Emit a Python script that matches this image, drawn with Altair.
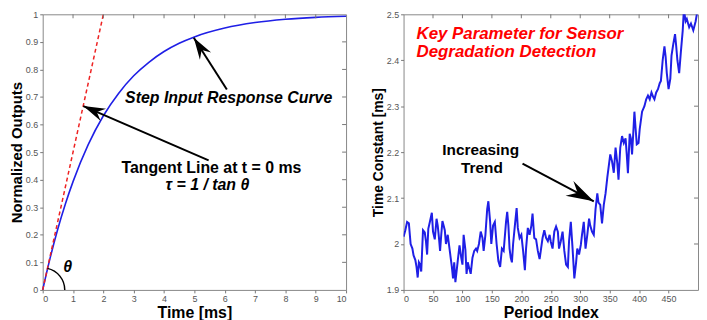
import math
import altair as alt
import pandas as pd

FONT = "Liberation Sans"

# ---------------- left panel data ----------------
time_ms = [0, 0.25, 0.5, 0.75, 1, 1.5, 2, 2.5, 3, 3.5, 4, 4.5, 5, 6, 7, 8, 9, 10]
norm_out = [0, 0.118, 0.222, 0.313, 0.393, 0.527, 0.632, 0.713, 0.777, 0.826,
            0.865, 0.895, 0.918, 0.950, 0.970, 0.982, 0.989, 0.993]
tangent_t = [0, 2]
tangent_y = [0, 1]
left_x_ticks = [0, 1, 2, 3, 4, 5, 6, 7, 8, 9, 10]
left_y_ticks = [0, 0.1, 0.2, 0.3, 0.4, 0.5, 0.6, 0.7, 0.8, 0.9, 1]

# ---------------- right panel data ----------------
period_idx = [0, 3, 6, 9, 12, 15, 17, 20, 22, 24, 26, 28, 30, 33, 36, 38, 40, 42, 45, 48,
              50, 53, 56, 58, 60, 62, 64, 66, 68, 70, 72, 75, 78, 80, 82, 84, 86, 88, 90, 92,
              95, 98, 100, 102, 105, 107, 109, 111, 114, 117, 120, 123, 125, 128, 131, 134, 136, 139, 142, 144,
              147, 149, 152, 155, 158, 161, 164, 167, 170, 174, 176, 178, 180, 182, 184, 186, 189, 192, 194, 197,
              200, 203, 206, 208, 211, 214, 217, 219, 222, 225, 228, 231, 233, 236, 239, 242, 245, 248, 250, 253,
              256, 259, 262, 264, 267, 270, 273, 276, 279, 281, 284, 287, 290, 293, 295, 298, 301, 303, 306, 309,
              312, 315, 317, 320, 323, 326, 329, 331, 334, 337, 340, 343, 346, 348, 351, 354, 357, 360, 363, 365,
              368, 371, 374, 377, 379, 381, 384, 386, 388, 390, 392, 394, 396, 399, 401, 405, 409, 412, 415, 418,
              421, 424, 426, 429, 432, 435, 437, 440, 443, 445, 447, 450, 453, 455, 458, 461, 463, 465, 468, 471,
              474, 476, 479, 481, 485, 488, 492, 496, 498]
time_const = [2.016, 2.03, 2.048, 2.045, 2.0, 1.99, 1.975, 1.965, 1.95, 1.927, 1.96, 1.955, 1.94, 2.03, 2.025, 2.006, 1.977, 2.033, 2.05, 2.068,
              2.027, 2.01, 2.055, 2.04, 2.015, 1.985, 2.02, 2.05, 2.04, 2.03, 2.0, 2.02, 1.99, 1.97, 1.95, 1.925, 1.96, 1.917, 1.94, 1.963,
              1.997, 1.97, 1.955, 2.02, 1.987, 1.935, 1.96, 1.95, 1.935, 1.97, 1.985, 1.99, 1.985, 2.0, 2.027, 2.013, 1.985, 2.02, 2.076, 2.093,
              2.048, 2.0, 2.04, 2.048, 2.0, 1.963, 1.95, 1.99, 1.985, 2.048, 2.07, 2.04, 1.99, 1.97, 1.96, 2.0, 2.04, 2.078, 2.035, 2.013,
              2.02, 1.985, 1.943, 1.99, 2.035, 2.02, 2.04, 2.066, 2.013, 2.01, 1.985, 1.967, 1.985, 2.013, 2.03, 2.013, 2.006, 2.02, 2.005, 1.99,
              2.027, 2.038, 2.027, 1.99, 2.006, 2.027, 1.985, 1.955, 1.95, 2.006, 2.048, 1.99, 1.925, 1.96, 1.99, 1.977, 1.998, 2.02, 2.048, 1.99,
              2.02, 2.055, 2.04, 2.027, 2.02, 2.076, 2.11, 2.09, 2.085, 2.045, 2.085, 2.11, 2.145, 2.165, 2.195, 2.18, 2.155, 2.21, 2.175, 2.14,
              2.21, 2.235, 2.22, 2.23, 2.195, 2.154, 2.24, 2.23, 2.195, 2.24, 2.288, 2.252, 2.217, 2.22, 2.25, 2.288, 2.3, 2.315, 2.323, 2.315,
              2.33, 2.32, 2.315, 2.33, 2.337, 2.35, 2.355, 2.40, 2.43, 2.408, 2.372, 2.337, 2.36, 2.41, 2.435, 2.457, 2.43, 2.40, 2.372, 2.42,
              2.464, 2.51, 2.485, 2.49, 2.472, 2.48, 2.465, 2.485, 2.5]
right_x_ticks = [0, 50, 100, 150, 200, 250, 300, 350, 400, 450]
right_y_ticks = [1.9, 2.0, 2.1, 2.2, 2.3, 2.4, 2.5]

WL, WR, H = 306, 297, 278
LX, LY = [0, 10], [0, 1]
RX, RY = [0, 500], [1.9, 2.5]

ARROW = "M0,0L0.55,1.8L0,1.2L-0.55,1.8Z"


def axis(title, values, fmt, tsize):
    return alt.Axis(title=title, values=values, format=fmt, grid=False, domain=False,
                    labelOverlap=False, labelFont=FONT, labelFontSize=9, labelColor="#555555",
                    tickColor="#777777", tickSize=3, labelPadding=2,
                    titleFont=FONT, titleFontSize=tsize, titleFontWeight="bold",
                    titleColor="black", titlePadding=1)


class Panel:
    def __init__(self, xdom, ydom, xaxis, yaxis, w):
        self.xs = alt.Scale(domain=xdom, nice=False, zero=False)
        self.ys = alt.Scale(domain=ydom, nice=False, zero=False)
        self.xa, self.ya = xaxis, yaxis
        self.kx = w / (xdom[1] - xdom[0])
        self.ky = H / (ydom[1] - ydom[0])
        self.w = w

    def X(self, f):
        return alt.X(f, scale=self.xs, axis=self.xa)

    def Y(self, f):
        return alt.Y(f, scale=self.ys, axis=self.ya)


def arrow_angle(p, tail, tip):
    dx = (tip[0] - tail[0]) * p.kx
    dy = (tip[1] - tail[1]) * p.ky
    return (math.degrees(math.atan2(dx, dy)) + 360) % 360


def arrow_layers(p, tail, tip, size):
    shaft = alt.Chart(pd.DataFrame({"x": [tail[0]], "y": [tail[1]], "x2": [tip[0]], "y2": [tip[1]]})).mark_rule(
        color="black", strokeWidth=2).encode(x=p.X("x:Q"), y=p.Y("y:Q"), x2="x2:Q", y2="y2:Q")
    head = alt.Chart(pd.DataFrame({"x": [tip[0]], "y": [tip[1]]})).mark_point(
        shape=ARROW, filled=True, color="black", opacity=1, size=size,
        angle=arrow_angle(p, tail, tip)).encode(x=p.X("x:Q"), y=p.Y("y:Q"))
    return [shaft, head]


def inner_ticks(p, xticks, yticks):
    top = alt.Chart(pd.DataFrame({"v": xticks})).mark_rule(color="#777777").encode(
        x=p.X("v:Q"), y=alt.value(0), y2=alt.value(4))
    right = alt.Chart(pd.DataFrame({"v": yticks})).mark_rule(color="#777777").encode(
        y=p.Y("v:Q"), x=alt.value(p.w - 4), x2=alt.value(p.w))
    return [top, right]


def text_layer(p, rows, **kw):
    df = pd.DataFrame(rows, columns=["x", "y", "t"])
    return alt.Chart(df).mark_text(font=FONT, **kw).encode(x=p.X("x:Q"), y=p.Y("y:Q"), text="t:N")


# ---------------- left panel ----------------
L = Panel(LX, LY, axis("Time [ms]", left_x_ticks, "d", 16),
          axis("Normalized Outputs", left_y_ticks, "~g", 15), WL)

resp = alt.Chart(pd.DataFrame({"t": time_ms, "y": norm_out})).mark_line(
    color="#1f1fe6", strokeWidth=1.6, interpolate="monotone").encode(x=L.X("t:Q"), y=L.Y("y:Q"))

tang = alt.Chart(pd.DataFrame({"t": tangent_t, "y": tangent_y})).mark_line(
    color="#ee2222", strokeWidth=1.5, strokeDash=[4, 3]).encode(x=L.X("t:Q"), y=L.Y("y:Q"))

theta_start = math.atan2((tangent_t[1] - tangent_t[0]) * L.kx, (tangent_y[1] - tangent_y[0]) * L.ky)
arc = alt.Chart(pd.DataFrame({"x": [0], "y": [0]})).mark_arc(
    radius=23, radius2=21.5, theta=theta_start, theta2=math.pi / 2, color="black").encode(
    x=L.X("x:Q"), y=L.Y("y:Q"))

left_layers = [resp, tang, arc]
left_layers += arrow_layers(L, (6.07, 0.727), (4.98, 0.915), 600)
left_layers += arrow_layers(L, (5.47, 0.47), (1.34, 0.667), 600)
left_layers += inner_ticks(L, left_x_ticks[1:-1], left_y_ticks[1:-1])
left_layers.append(text_layer(L, [(6.13, 0.695, "Step Input Response Curve"),
                                  (5.43, 0.38, "τ = 1 / tan θ"),
                                  (0.82, 0.083, "θ")],
                              fontSize=16, fontWeight="bold", fontStyle="italic", color="black"))
left_layers.append(text_layer(L, [(5.56, 0.443, "Tangent Line at t = 0 ms")],
                              fontSize=16, fontWeight="bold", color="black"))

left = alt.layer(*left_layers).properties(width=WL, height=H)

# ---------------- right panel ----------------
R = Panel(RX, RY, axis("Period Index", right_x_ticks, "d", 16),
          axis("Time Constant [ms]", right_y_ticks, "~g", 14), WR)

series = alt.Chart(pd.DataFrame({"i": period_idx, "v": time_const})).mark_line(
    color="#1f1fe6", strokeWidth=2, clip=True).encode(x=R.X("i:Q"), y=R.Y("v:Q"))

right_layers = [series]
right_layers += arrow_layers(R, (202, 2.175), (323, 2.093), 950)
right_layers += inner_ticks(R, right_x_ticks[1:], right_y_ticks[1:-1])
right_layers.append(text_layer(R, [(22, 2.457, "Key Parameter for Sensor"),
                                   (22, 2.417, "Degradation Detection")],
                               fontSize=17, fontWeight="bold", fontStyle="italic",
                               color="#ff0000", align="left"))
right_layers.append(text_layer(R, [(131, 2.204, "Increasing"), (133, 2.166, "Trend")],
                               fontSize=15.5, fontWeight="bold", color="black"))

right = alt.layer(*right_layers).properties(width=WR, height=H)

chart = alt.hconcat(left, right, spacing=20).properties(
    padding={"left": 0, "top": 0, "right": 0, "bottom": 0},
    background="white").configure_view(stroke="#888888", strokeWidth=1)

chart.save("out.html", embed_options={"renderer": "svg", "actions": False})
